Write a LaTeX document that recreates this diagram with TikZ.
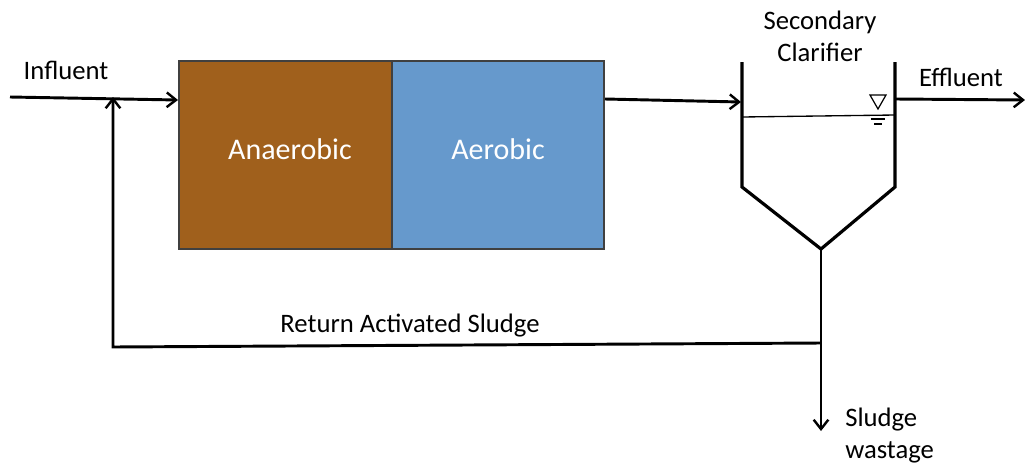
\documentclass[tikz,border=0pt]{standalone}
\usepackage{fontspec}
\setmainfont{Carlito}
\usetikzlibrary{arrows.meta}
\definecolor{brownfill}{HTML}{A0601C}
\definecolor{bluefill}{HTML}{6699CC}
\begin{document}
\begin{tikzpicture}[x=0.75pt,y=-0.75pt,
  flow/.style={line width=2.2pt,-{Straight Barb[length=7pt,width=11pt,line width=1.8pt]}},
  pipe/.style={line width=2.2pt},
  wall/.style={line width=2.4pt,line join=miter},
  lbl/.style={font=\fontsize{20}{24}\selectfont,inner sep=0pt},
  tank/.style={draw=black!75,line width=0.8pt,minimum height=188*0.75pt,inner sep=0pt}]
\useasboundingbox (0,0) rectangle (1025,465);
% tanks
\node[tank,fill=brownfill,minimum width=213*0.75pt] (ana) at (285.5,155) {};
\node[tank,fill=bluefill,minimum width=212*0.75pt] (aer) at (498,155) {};
\node[lbl,text=white,font=\fontsize{22.5}{26}\selectfont] at (290,149) {Anaerobic};
\node[lbl,text=white,font=\fontsize{22.5}{26}\selectfont] at (498,149) {Aerobic};
% clarifier
\coordinate (cl1) at (742,62);
\coordinate (cl2) at (742,187);
\coordinate (cb) at (821,249);
\coordinate (cr2) at (895,187);
\coordinate (cr1) at (895,62);
\draw[wall] (cl1) -- (cl2) -- (cb) -- (cr2) -- (cr1);
\coordinate (wl) at (742,117);
\coordinate (wr) at (895,115);
\draw[line width=1pt] (wl) -- (wr);
\draw[line width=0.9pt] (870,95) -- (886,95) -- (878,109) -- cycle;
\draw[line width=0.8pt] (871,119) -- (885,119);
\draw[line width=0.8pt] (874,124) -- (882,124);
\node[lbl,align=center] (sc) at (820,36) {Secondary\\[0pt]Clarifier};
% influent
\coordinate (in0) at (10,97);
\coordinate (anain) at (178,100);
\draw[flow] (in0) -- (anain);
\node[lbl] (inf) at (66,70) {Influent};
% to clarifier
\coordinate (aerout) at (605,99);
\coordinate (clin) at (741,102);
\draw[flow] (aerout) -- (clin);
% effluent
\coordinate (effs) at (896,99);
\coordinate (effe) at (1025,100);
\draw[flow] (effs) -- (effe);
\node[lbl] (eff) at (961,77) {Effluent};
% sludge
\coordinate (rj) at (821,343);
\coordinate (sw) at (821,431);
\draw[pipe] (cb) -- (rj);
\draw[flow] (rj) -- (sw);
\node[lbl,anchor=west,align=left] (swl) at (845,436) {Sludge\\[0pt]wastage};
% return
\coordinate (rc) at (113,347);
\coordinate (rt) at (113,97);
\draw[flow] (rj) -- (rc) -- (rt);
\node[lbl] (ras) at (410,326) {Return Activated Sludge};
\end{tikzpicture}
\end{document}
